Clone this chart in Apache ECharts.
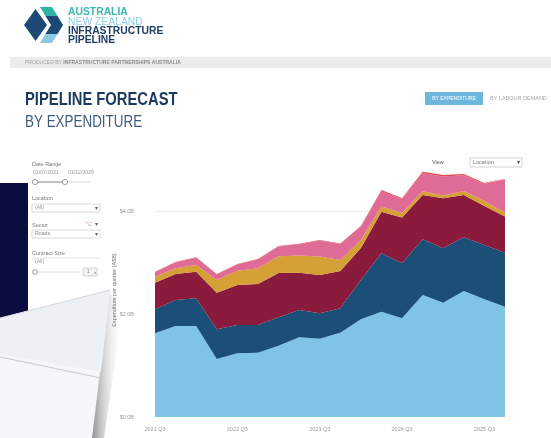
<!DOCTYPE html>
<html><head><meta charset="utf-8">
<script src="https://cdn.jsdelivr.net/npm/echarts@6/dist/echarts.min.js"></script>
<style>html,body{margin:0;padding:0;background:#fff}#c{width:551px;height:438px}</style>
</head><body><div id="c"></div>
<script>
const quarters = ['2021 Q3','2021 Q4','2022 Q1','2022 Q2','2022 Q3','2022 Q4','2023 Q1','2023 Q2','2023 Q3','2023 Q4','2024 Q1','2024 Q2','2024 Q3','2024 Q4','2025 Q1','2025 Q2','2025 Q3','2025 Q4'];
const seriesNames = ['NSW','VIC','QLD','WA','SA','Other'];
const nsw   = [1.625,1.767,1.767,1.126,1.237,1.249,1.384,1.548,1.520,1.637,1.897,2.045,1.917,2.369,2.219,2.447,2.285,2.142];
const vic   = [0.466,0.505,0.538,0.577,0.550,0.538,0.551,0.530,0.493,0.474,0.763,1.134,1.068,1.082,1.056,1.043,1.054,1.049];
const qld   = [0.517,0.505,0.517,0.711,0.777,0.796,0.860,0.724,0.744,0.724,0.621,0.808,0.889,0.860,0.971,0.821,0.757,0.703];
const wa    = [0.117,0.111,0.130,0.247,0.278,0.305,0.324,0.334,0.359,0.214,0.155,0.101,0.087,0.072,0.054,0.078,0.097,0.078];
const sa    = [0.087,0.112,0.140,0.107,0.120,0.171,0.190,0.219,0.310,0.310,0.257,0.295,0.265,0.351,0.368,0.305,0.335,0.649];
const other = [0.010,0.010,0.010,0.010,0.010,0.010,0.010,0.010,0.010,0.010,0.015,0.025,0.020,0.030,0.030,0.025,0.015,0.015];
const yTicks = [2, 4];
const colors = ['#7fc3e5','#1b4f78','#8a1b3d','#d5a036','#de6c96','#e2474e'];

const chart = echarts.init(document.getElementById('c'), null, {renderer:'canvas'});
const values = [nsw, vic, qld, wa, sa, other];
const FF = '"Liberation Sans", Arial, sans-serif';

const series = values.map((d, i) => ({
  name: seriesNames[i], type: 'line', stack: 'total', data: d,
  symbol: 'none', smooth: false,
  lineStyle: {width: 0}, areaStyle: {color: colors[i], opacity: 1},
  itemStyle: {color: colors[i]}, z: 3
}));
series[0].markLine = {
  silent: true, symbol: 'none', label: {show: false}, z: 1,
  lineStyle: {color: '#ececec', width: 1, type: 'solid'},
  data: yTicks.map(v => ({yAxis: v}))
};

function txt(x, y, text, size, fill, opts) {
  opts = opts || {};
  return {type:'text', x, y, z: opts.z || 10, scaleX: opts.sx || 1, rotation: opts.rot || 0,
    style:{text, fill, font: (opts.bold ? 'bold ' : '') + size + 'px ' + FF,
      align: opts.align || 'left', verticalAlign: 'middle'}};
}
function poly(points, fill, z) { return {type:'polygon', z: z || 5, shape:{points}, style:{fill}}; }
function rect(x, y, w, h, fill, stroke, z) {
  return {type:'rect', z: z || 5, shape:{x, y, width:w, height:h}, style:{fill, stroke: stroke || null, lineWidth: 0.8}};
}

const navy = '#1d3c63';
const elements = [
  // logo
  poly([[24,25],[35.5,9],[47,25],[35.5,41]], '#1d4a74'),
  poly([[40,7],[52,7],[57.5,16],[45.5,16]], '#2fb3a9'),
  poly([[45.5,16],[57.5,16],[63,25],[57.5,34],[45.5,34],[51,25]], '#1d4a74'),
  poly([[45.5,34],[57.5,34],[52,43],[40,43]], '#8bc8e2'),
  txt(68, 12, 'AUSTRALIA', 11.5, '#3ab7ae', {bold:true, sx:0.9}),
  txt(68, 21.5, 'NEW ZEALAND', 11.5, '#92cfe8', {sx:0.9}),
  txt(68, 31, 'INFRASTRUCTURE', 11.5, navy, {bold:true, sx:0.9}),
  txt(68, 40.3, 'PIPELINE', 11.5, navy, {bold:true, sx:0.9}),
  // produced band
  rect(10, 57, 541, 11, '#ececec', null, 2),
  {type:'text', x:25, y:62.8, z:10, scaleX:0.84, style:{
    text:'PRODUCED BY {b|INFRASTRUCTURE PARTNERSHIPS AUSTRALIA}', fill:'#a0a0a0',
    font:'6px ' + FF, verticalAlign:'middle',
    rich:{b:{fontWeight:'bold', fontSize:6, fill:'#8a8a8a', fontFamily:'Liberation Sans'}}}},
  // titles
  txt(25, 100.5, 'PIPELINE FORECAST', 18, '#1a3a5e', {bold:true, sx:0.82}),
  txt(25, 122, 'BY EXPENDITURE', 17, '#3e5c7c', {sx:0.79}),
  // toggle buttons
  rect(425, 92, 58, 13, '#6db6de', null, 5),
  txt(454, 98.5, 'BY EXPENDITURE', 5, '#ffffff', {align:'center'}),
  txt(490, 98.5, 'BY LABOUR DEMAND', 5.5, '#a8a8a8'),
  // view selector
  txt(432, 162.5, 'View', 5.5, '#555'),
  rect(470, 158, 52, 9, '#fff', '#c8c8c8', 5),
  txt(473, 162.5, 'Location', 5.5, '#777'),
  txt(518, 162.5, '▾', 6, '#555', {align:'center'}),
  // left filters
  txt(32, 164.5, 'Date Range', 5.5, '#777'),
  txt(33, 173, '01/07/2021', 5.2, '#999'),
  txt(68, 173, '01/12/2029', 5.2, '#999'),
  {type:'line', z:5, shape:{x1:35, y1:182, x2:90, y2:182}, style:{stroke:'#d8d8d8', lineWidth:1}},
  {type:'line', z:6, shape:{x1:35, y1:182, x2:65, y2:182}, style:{stroke:'#999', lineWidth:1}},
  {type:'circle', z:7, shape:{cx:35, cy:182, r:2.6}, style:{fill:'#fff', stroke:'#888', lineWidth:0.8}},
  {type:'circle', z:7, shape:{cx:65, cy:182, r:2.6}, style:{fill:'#fff', stroke:'#888', lineWidth:0.8}},
  txt(32, 198, 'Location', 5.5, '#777'),
  rect(32, 204, 68, 8, '#fff', '#d0d0d0', 5),
  txt(35, 208, '(All)', 5.2, '#999'),
  txt(96, 208, '▾', 5.5, '#666', {align:'center'}),
  txt(32, 225, 'Sector', 5.5, '#777'),
  txt(88, 224.5, '⌥', 5.5, '#c88', {align:'center'}),
  txt(96, 224.5, '▾', 5.5, '#666', {align:'center'}),
  rect(32, 230, 68, 8, '#fff', '#d0d0d0', 5),
  txt(35, 234, 'Roads', 5.2, '#888'),
  txt(96, 234, '▾', 5.5, '#666', {align:'center'}),
  txt(32, 253, 'Contract Size', 5.5, '#777'),
  {type:'line', z:5, shape:{x1:32, y1:258, x2:100, y2:258}, style:{stroke:'#ddd', lineWidth:0.8}},
  txt(35, 262, '(All)', 5.2, '#999'),
  {type:'line', z:5, shape:{x1:35, y1:272, x2:80, y2:272}, style:{stroke:'#d8d8d8', lineWidth:1}},
  {type:'circle', z:7, shape:{cx:35, cy:272, r:2.4}, style:{fill:'#fff', stroke:'#888', lineWidth:0.8}},
  rect(83, 268, 14, 8, '#f4f4f4', '#ccc', 5),
  txt(87, 272, '1', 5, '#888'),
  txt(94, 272, '›', 6, '#555'),
  // navy block behind the sheet
  rect(0, 183, 28, 140, '#0b0d3f', null, 20),
  // sheet shadow
  {type:'polygon', z:21, shape:{points:[[108,294],[124,300],[104,438],[90,438]]},
    style:{fill:{type:'linear', x:0, y:0, x2:1, y2:0, colorStops:[{offset:0,color:'rgba(90,90,90,0.75)'},{offset:1,color:'rgba(255,255,255,0)'}]}}},
  // sheet
  poly([[0,318],[110,290],[92,438],[0,438]], '#f6f7f8', 22),
  poly([[0,318],[110,290],[101,372],[0,354]], '#edf1f4', 23),
  {type:'line', z:24, shape:{x1:0, y1:357, x2:101, y2:378}, style:{stroke:'#c9c9c9', lineWidth:1.2}},
  {type:'line', z:24, shape:{x1:0, y1:318, x2:110, y2:290}, style:{stroke:'#d6d6d6', lineWidth:1}},
  // y axis name
  txt(114, 290, 'Expenditure per quarter (A$B)', 5.5, '#777', {align:'center', rot:Math.PI/2, z:30})
];

chart.setOption({
  animation: false,
  backgroundColor: '#ffffff',
  color: colors,
  grid: {left: 155, right: 46, top: 108, bottom: 21, containLabel: false},
  xAxis: {
    type: 'category', data: quarters, boundaryGap: false,
    axisLine: {show: false}, axisTick: {show: false},
    axisLabel: {interval: 3, color: '#999', fontSize: 5.5, fontFamily: 'Liberation Sans', margin: 9}
  },
  yAxis: {
    type: 'value', min: 0, max: 6, interval: 2,
    axisLine: {show: false}, axisTick: {show: false}, splitLine: {show: false},
    axisLabel: {showMaxLabel: false, color: '#999', fontSize: 5.5, fontFamily: 'Liberation Sans', margin: 21,
      formatter: v => '$' + v.toFixed(1) + 'B'}
  },
  series,
  graphic: {elements}
});
</script></body></html>
